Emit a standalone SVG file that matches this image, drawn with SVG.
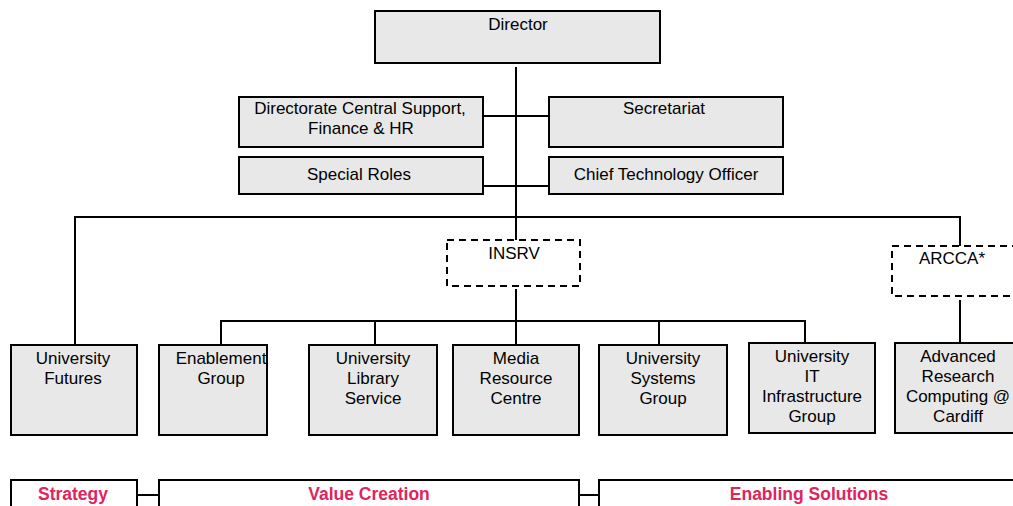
<svg xmlns="http://www.w3.org/2000/svg" width="1013" height="506" viewBox="0 0 1013 506">
<style>
.b{fill:#e8e8e8;stroke:#000;stroke-width:2}
.d{fill:#fff;stroke:#000;stroke-width:2;stroke-dasharray:7,5}
.w{fill:#fff;stroke:#000;stroke-width:2}
.c{fill:none;stroke:#000;stroke-width:2}
text{font-family:"Liberation Sans",Arial,sans-serif;font-size:17px;fill:#000;text-anchor:middle}
.r{fill:#e0245e;font-weight:bold;font-size:17.5px}
</style>
<rect width="1013" height="506" fill="#fff"/>
<g id="connectors">
<path class="c" d="M516,67V240M483,116H549M483,186H549M75,345V217H960V246M516,289V345M221,345V321H805V343M375,321V345M659,321V345M960,300V343M137,495H159M579,495H599"/>
</g>
<g id="director"><rect class="b" x="375" y="11" width="285" height="52"/><text x="518" y="30">Director</text></g>
<g id="dcs"><rect class="b" x="239" y="97" width="244" height="50"/><text x="360" y="114">Directorate Central Support,</text><text x="361" y="134">Finance &amp; HR</text></g>
<g id="secretariat"><rect class="b" x="549" y="97" width="234" height="50"/><text x="664" y="114">Secretariat</text></g>
<g id="special"><rect class="b" x="239" y="157" width="244" height="37"/><text x="359" y="180">Special Roles</text></g>
<g id="cto"><rect class="b" x="549" y="157" width="234" height="37"/><text x="666" y="180">Chief Technology Officer</text></g>
<g id="insrv"><rect class="d" x="447" y="240" width="133" height="46"/><text x="514" y="259">INSRV</text></g>
<g id="arcca"><rect class="d" x="892" y="246" width="130" height="50"/><text x="952" y="264">ARCCA*</text></g>
<g id="futures"><rect class="b" x="11" y="345" width="126" height="90"/><text x="73" y="364">University</text><text x="73" y="384">Futures</text></g>
<g id="enablement"><rect class="b" x="159" y="345" width="108" height="90"/><text x="221" y="364">Enablement</text><text x="221" y="384">Group</text></g>
<g id="library"><rect class="b" x="309" y="345" width="128" height="90"/><text x="373" y="364">University</text><text x="373" y="384">Library</text><text x="373" y="404">Service</text></g>
<g id="media"><rect class="b" x="453" y="345" width="126" height="90"/><text x="516" y="364">Media</text><text x="516" y="384">Resource</text><text x="516" y="404">Centre</text></g>
<g id="systems"><rect class="b" x="599" y="345" width="128" height="90"/><text x="663" y="364">University</text><text x="663" y="384">Systems</text><text x="663" y="404">Group</text></g>
<g id="itinfra"><rect class="b" x="749" y="343" width="126" height="90"/><text x="812" y="362">University</text><text x="812" y="382">IT</text><text x="812" y="402">Infrastructure</text><text x="812" y="422">Group</text></g>
<g id="advanced"><rect class="b" x="895" y="343" width="130" height="90"/><text x="958" y="362">Advanced</text><text x="958" y="382">Research</text><text x="958" y="402">Computing @</text><text x="958" y="422">Cardiff</text></g>
<g id="strategy"><rect class="w" x="11" y="480" width="126" height="40"/><text class="r" x="73" y="500">Strategy</text></g>
<g id="value"><rect class="w" x="159" y="480" width="420" height="40"/><text class="r" x="369" y="500">Value Creation</text></g>
<g id="enabling"><rect class="w" x="599" y="480" width="430" height="40"/><text class="r" x="809" y="500">Enabling Solutions</text></g>
</svg>
